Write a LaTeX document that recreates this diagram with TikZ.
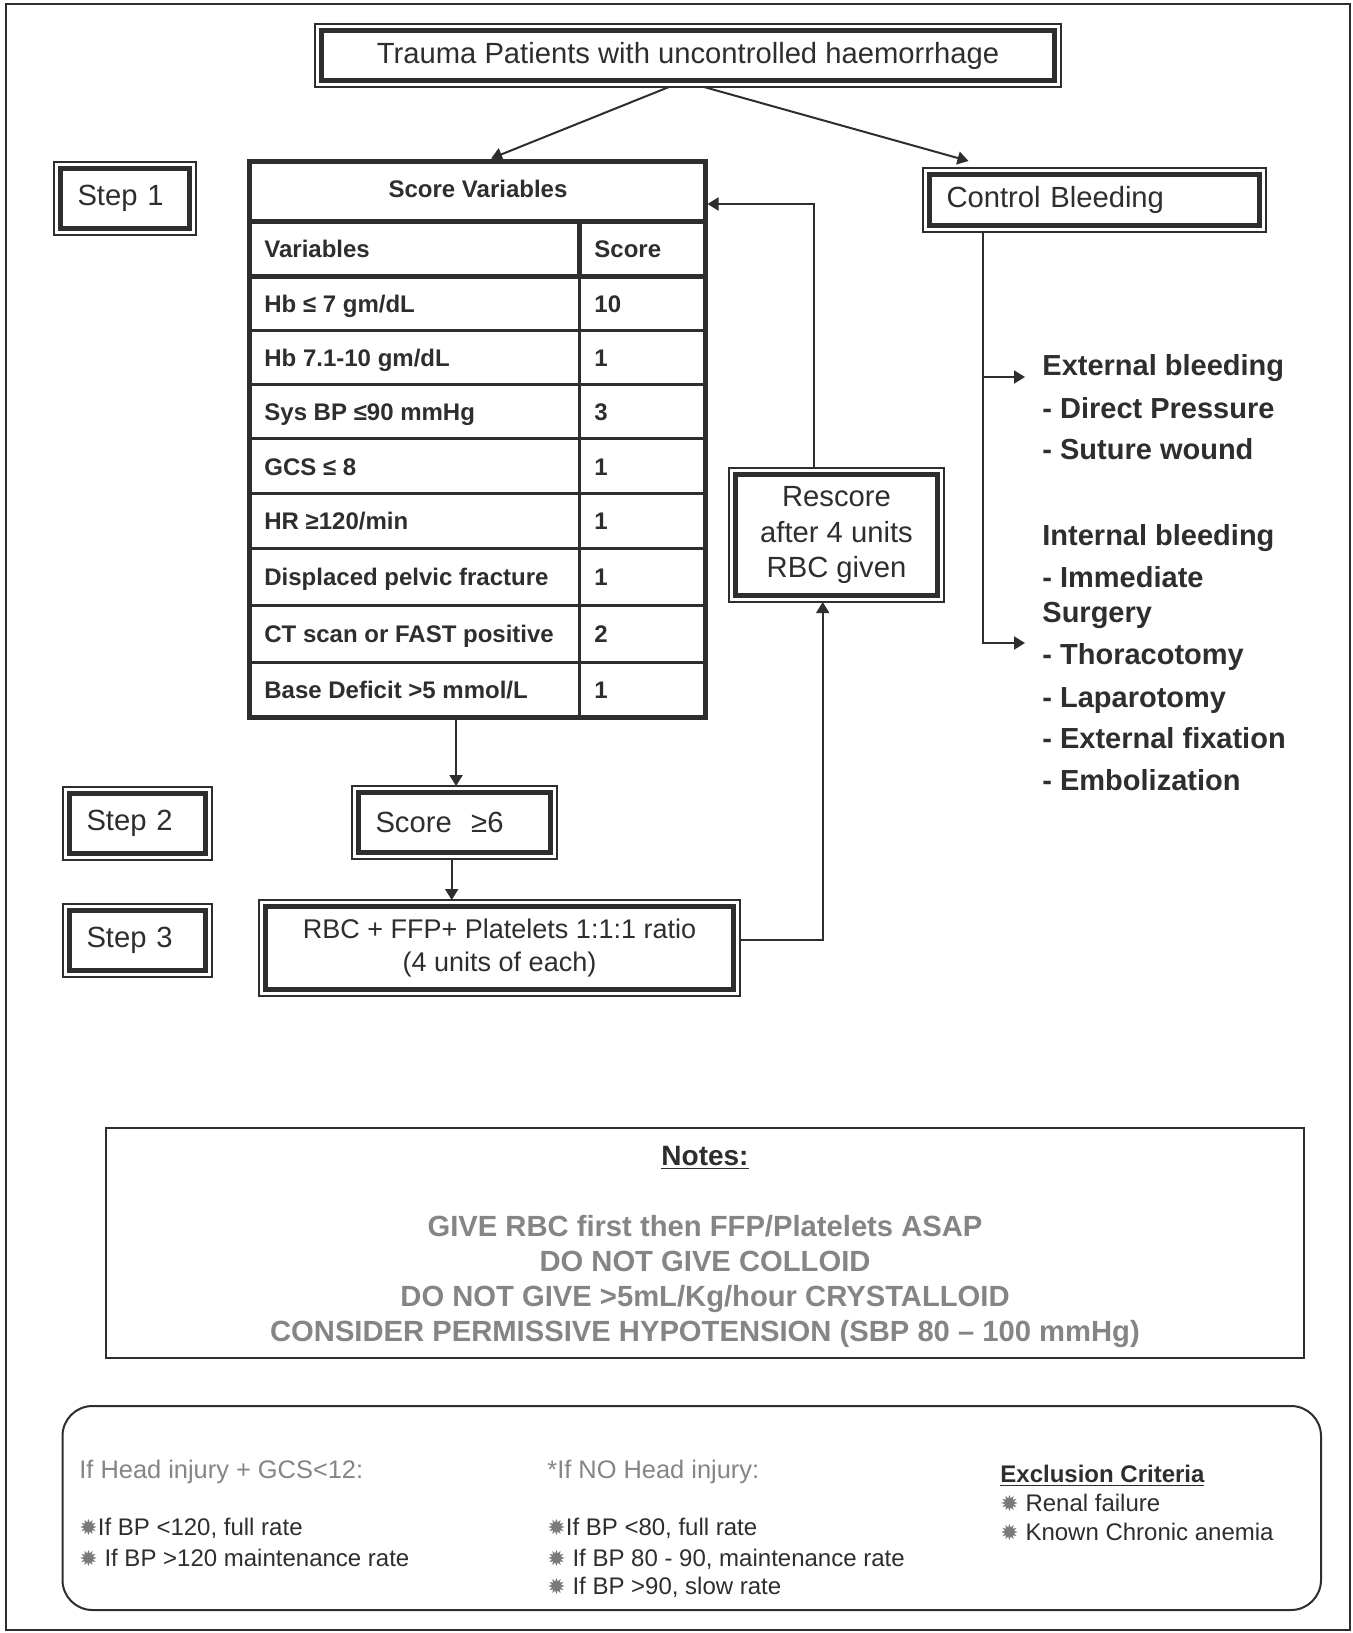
\documentclass[tikz,border=0pt]{standalone}
\usepackage{fontspec}
\setmainfont{Liberation Sans}
\newfontfamily\dejavu{DejaVu Sans}
\usetikzlibrary{arrows.meta}
\definecolor{ink}{HTML}{2E2E2E}
\definecolor{notegrey}{HTML}{858585}
\definecolor{bulgrey}{HTML}{7A7A7A}
\newcommand{\bul}{{\color{bulgrey}\dejavu\fontsize{11}{11}\selectfont ✹}}
\tikzset{
  dbox/.style={draw=ink, line width=2.75pt, outer sep=3.25pt, inner sep=0pt, text=ink,
    font=\fontsize{14.6}{17.8}\selectfont},
  lbox/.style={dbox, align=left, inner xsep=8.5pt},
  cell/.style={anchor=base west, inner sep=0pt, text=ink, font=\bfseries\fontsize{12}{14}\selectfont},
  sideitem/.style={anchor=base west, inner sep=0pt, text=ink, font=\bfseries\fontsize{14.5}{17}\selectfont},
  noteline/.style={anchor=base, inner sep=0pt, text=notegrey, font=\bfseries\fontsize{14.6}{16}\selectfont},
  foottext/.style={anchor=base west, inner sep=0pt, text=ink, font=\fontsize{12}{14}\selectfont},
  foothead/.style={foottext, text=notegrey, font=\fontsize{12.7}{14}\selectfont},
  arr/.style={draw=ink, line width=1pt, -{Triangle[length=5.5pt,width=6.5pt]}},
}
\begin{document}
\begin{tikzpicture}[x=0.5pt, y=-0.5pt]
\path[use as bounding box, fill=white] (0,0) rectangle (1353,1633);
\draw[ink, line width=1pt] (6,4) rectangle (1350,1630);

\node[dbox, minimum width=366.5pt, minimum height=25pt] (title) at (688,55.5)
  {Trauma Patients with uncontrolled haemorrhage};
\node[lbox, text width=47.5pt, minimum height=30pt] (step1) at (125,198.5) {Step 1};
\node[lbox, text width=51pt, minimum height=30pt] (step2) at (137.5,823.5) {Step 2};
\node[lbox, text width=51pt, minimum height=30pt] (step3) at (137.5,940.5) {Step 3};
\node[lbox, text width=148pt, minimum height=25.5pt] (ctrl) at (1094.5,200) {Control Bleeding};
\node[dbox, minimum width=101pt, minimum height=60.5pt, align=center] (rescore) at (836.5,535)
  {Rescore\\after 4 units\\RBC given};
\node[lbox, text width=79pt, minimum height=30pt] (cutoff) at (454.5,822.5) {Score~~≥6};
\node[dbox, minimum width=234pt, minimum height=41.5pt, align=center,
  font=\fontsize{13.5}{16.2}\selectfont] (transf) at (499.5,948)
  {RBC + FFP+ Platelets 1:1:1 ratio\\(4 units of each)};
\foreach \b in {title,step1,step2,step3,ctrl,rescore,cutoff,transf}
  \draw[ink, line width=0.75pt] (\b.north west) rectangle (\b.south east);

% score table
\node[draw=ink, line width=2.5pt, inner sep=0pt, minimum width=227.75pt, minimum height=278pt] (scores) at (477.25,439) {};
\draw[ink, line width=2.5pt] (249.5,221.5) -- (705,221.5) (249.5,276.5) -- (705,276.5) (579.5,221.5) -- (579.5,276.5);
\draw[ink, line width=1.5pt] (579.5,276.5) -- (579.5,717);
\foreach \y in {330.5,384,438.5,493,548,605,662}
  \draw[ink, line width=1.5pt] (249.5,\y) -- (705,\y);
\node[cell, anchor=base] (schead) at (478,197) {Score Variables};
\node[cell] (varhead) at (264,257) {Variables};
\node[cell] (pthead) at (594,257) {Score};
\foreach \y/\v/\s [count=\i] in {312/{Hb ≤ 7 gm/dL}/10, 366/{Hb 7.1-10 gm/dL}/1,
    420/{Sys BP ≤90 mmHg}/3, 475/{GCS ≤ 8}/1, 529/{HR ≥120/min}/1,
    585/{Displaced pelvic fracture}/1, 642/{CT scan or FAST positive}/2,
    698/{Base Deficit >5 mmol/L}/1}
{
  \node[cell] (var\i) at (264,\y) {\v};
  \node[cell] (pts\i) at (594,\y) {\s};
}

% bleeding control
\foreach \y/\t [count=\i] in {375/External bleeding, 418/- Direct Pressure, 459/- Suture wound,
    545/Internal bleeding, 587/- Immediate, 622/Surgery, 664/- Thoracotomy,
    707/- Laparotomy, 748/- External fixation, 790/- Embolization}
  \node[sideitem] (care\i) at (1042,\y) {\t};

\draw[arr] ([xshift=-9.5pt]title.south) -- ([xshift=6.9pt]scores.north);
\draw[arr] ([xshift=8pt]title.south) -- ([xshift=-63pt,yshift=3.5pt]ctrl.north);
\draw[arr, line width=0.9pt] ([xshift=-11.25pt]rescore.north) |- ([yshift=117.5pt]scores.east);
\draw[arr] ([xshift=-10.6pt]scores.south) -- ([xshift=-10.6pt]scores.south |- cutoff.north);
\draw[arr] ([xshift=-1.4pt]cutoff.south) -- ([xshift=-1.4pt]cutoff.south |- transf.north);
\draw[arr, line width=0.9pt] ([yshift=4pt]transf.east) -| ([xshift=-6.9pt]rescore.south);
\draw[arr] ([xshift=-55.6pt]ctrl.south) |- ([xshift=-8.5pt,yshift=-1pt]care1.base west);
\draw[arr] ([xshift=-55.6pt]ctrl.south) |- ([xshift=-8.5pt,yshift=10.5pt]care7.base west);

% notes
\node[draw=ink, line width=1.2pt, inner sep=0pt, minimum width=599pt, minimum height=115pt] (notes) at (705,1243) {};
\node[anchor=base, inner sep=0pt, text=ink, font=\bfseries\fontsize{14}{16}\selectfont] (notehead) at (705,1165) {\underline{Notes:}};
\foreach \y/\t [count=\i] in {1236/{GIVE RBC first then FFP/Platelets ASAP}, 1271/{DO NOT GIVE COLLOID},
    1306/{DO NOT GIVE >5mL/Kg/hour CRYSTALLOID}, 1341/{CONSIDER PERMISSIVE HYPOTENSION (SBP 80 – 100 mmHg)}}
  \node[noteline] (note\i) at (705,\y) {\t};

% fluid rates
\node[draw=ink, line width=1pt, rounded corners=15pt, inner sep=0pt, minimum width=629.25pt, minimum height=102pt] (rates) at (691.75,1508) {};
\node[foothead] (headinj) at (79,1478.5) {If Head injury + GCS<12:};
\node[foothead] (nohead) at (547,1478.5) {*If NO Head injury:};
\node[foottext, font=\bfseries\fontsize{12}{14}\selectfont] (excl) at (1000,1482.5) {\underline{Exclusion Criteria}};
\node[foottext] (hrate1) at (79,1535.5) {\bul If BP <120, full rate};
\node[foottext] (hrate2) at (79,1566) {\bul\ If BP >120 maintenance rate};
\node[foottext] (nrate1) at (547,1535.5) {\bul If BP <80, full rate};
\node[foottext] (nrate2) at (547,1566) {\bul\ If BP 80 - 90, maintenance rate};
\node[foottext] (nrate3) at (547,1594) {\bul\ If BP >90, slow rate};
\node[foottext] (excl1) at (1000,1511.5) {\bul\ Renal failure};
\node[foottext] (excl2) at (1000,1540.5) {\bul\ Known Chronic anemia};
\end{tikzpicture}
\end{document}
